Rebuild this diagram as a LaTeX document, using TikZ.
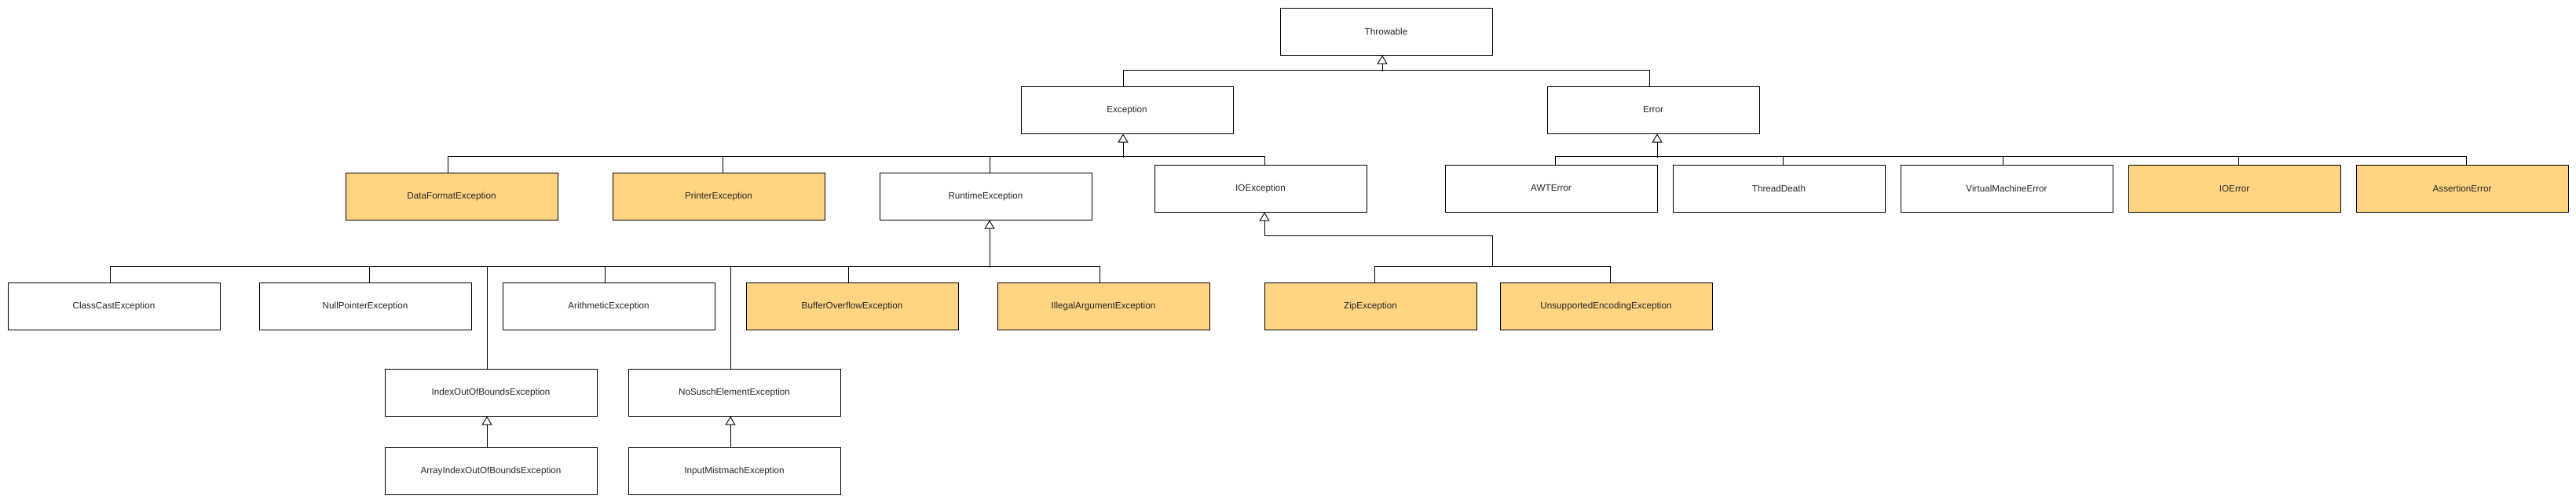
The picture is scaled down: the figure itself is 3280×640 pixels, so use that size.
\documentclass[tikz,border=0pt]{standalone}
\usepackage{fontspec}
\setmainfont{Liberation Sans}
\usetikzlibrary{arrows.meta}
\definecolor{newfill}{HTML}{FFD482}

\begin{document}
\begin{tikzpicture}[x=1pt,y=-1pt,line width=0.9pt,
cls/.style={rectangle, draw=black, line width=1pt, fill=white, minimum width=270pt, minimum height=60pt, inner sep=0pt, text=black!85, font=\fontsize{11.7}{14}\selectfont},
newcls/.style={cls, fill=newfill},
gen/.style={-{Triangle[open, length=11pt, width=13pt]}}
]
\useasboundingbox (0,0) rectangle (3280,640);
\node[cls] (throwable) at (1765,40) {Throwable};
\node[cls] (exception) at (1435,140) {Exception};
\node[cls] (error) at (2105,140) {Error};
\node[newcls] (dataformat) at (575,250) {DataFormatException};
\node[newcls] (printer) at (915,250) {PrinterException};
\node[cls] (runtime) at (1255,250) {RuntimeException};
\node[cls] (ioexc) at (1605,240) {IOException};
\node[cls] (awterror) at (1975,240) {AWTError};
\node[cls] (threaddeath) at (2265,240) {ThreadDeath};
\node[cls] (vmerror) at (2555,240) {VirtualMachineError};
\node[newcls] (ioerror) at (2845,240) {IOError};
\node[newcls] (assertion) at (3135,240) {AssertionError};
\node[cls] (classcast) at (145,390) {ClassCastException};
\node[cls] (nullpointer) at (465,390) {NullPointerException};
\node[cls] (arithmetic) at (775,390) {ArithmeticException};
\node[newcls] (bufferoverflow) at (1085,390) {BufferOverflowException};
\node[newcls] (illegalarg) at (1405,390) {IllegalArgumentException};
\node[newcls] (zip) at (1745,390) {ZipException};
\node[newcls] (unsupported) at (2045,390) {UnsupportedEncodingException};
\node[cls] (indexoob) at (625,500) {IndexOutOfBoundsException};
\node[cls] (nosusch) at (935,500) {NoSuschElementException};
\node[cls] (arrayindex) at (625,600) {ArrayIndexOutOfBoundsException};
\node[cls] (inputmismatch) at (935,600) {InputMistmachException};

\draw ([xshift=-5pt]exception.north) -- ++(0,-20) -| ([xshift=-5pt]error.north);
\draw[gen] ([xshift=-5pt]throwable.south) ++(0,20) -- ([xshift=-5pt]throwable.south);

\draw ([xshift=-5pt]dataformat.north) -- ++(0,-20) -| ([xshift=5pt]ioexc.north);
\draw ([xshift=5pt]printer.north) -- ++(0,-20);
\draw ([xshift=5pt]runtime.north) -- ++(0,-20);
\draw[gen] ([xshift=-5pt]exception.south) ++(0,30) -- ([xshift=-5pt]exception.south);

\draw ([xshift=5pt]awterror.north) -- ++(0,-10) -| ([xshift=5pt]assertion.north);
\draw ([xshift=5pt]threaddeath.north) -- ++(0,-10);
\draw ([xshift=-5pt]vmerror.north) -- ++(0,-10);
\draw ([xshift=5pt]ioerror.north) -- ++(0,-10);
\draw[gen] ([xshift=5pt]error.south) ++(0,30) -- ([xshift=5pt]error.south);

\draw ([xshift=-5pt]classcast.north) -- ++(0,-20) -| ([xshift=-5pt]illegalarg.north);
\draw ([xshift=5pt]nullpointer.north) -- ++(0,-20);
\draw ([xshift=-5pt]arithmetic.north) -- ++(0,-20);
\draw ([xshift=-5pt]bufferoverflow.north) -- ++(0,-20);
\draw ([xshift=-5pt]indexoob.north) -- ++(0,-130);
\draw ([xshift=-5pt]nosusch.north) -- ++(0,-130);
\draw[gen] ([xshift=5pt]runtime.south) ++(0,60) -- ([xshift=5pt]runtime.south);

\coordinate (iojoin) at (1900,340);
\draw ([xshift=5pt]zip.north) -- ++(0,-20) -| ([xshift=5pt]unsupported.north);
\draw[gen] (iojoin) -- ++(0,-40) -| ([xshift=5pt]ioexc.south);

\draw[gen] ([xshift=-5pt]arrayindex.north) -- ([xshift=-5pt]indexoob.south);
\draw[gen] ([xshift=-5pt]inputmismatch.north) -- ([xshift=-5pt]nosusch.south);
\end{tikzpicture}
\end{document}
